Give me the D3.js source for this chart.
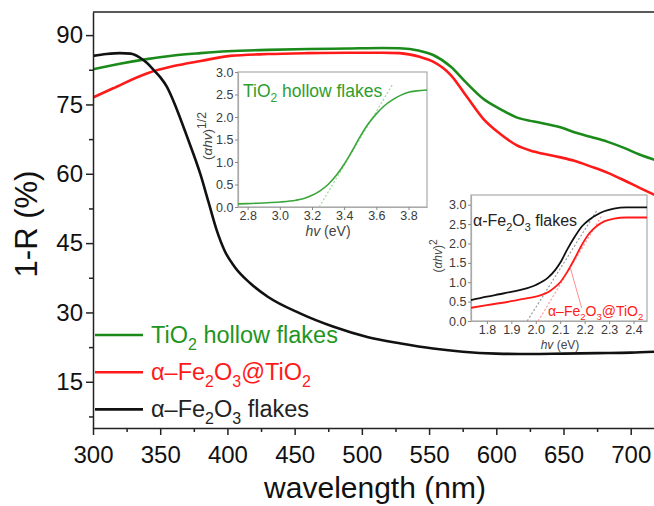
<!DOCTYPE html>
<html>
<head>
<meta charset="utf-8">
<script src="https://cdn.jsdelivr.net/npm/d3@7"></script>
<style>
  body { margin: 0; background: #fff; }
  svg { display: block; font-family: "Liberation Sans", Arial, sans-serif; }
</style>
</head>
<body>
<div id="chart"></div>
<script>
// main spectra, wavelength (nm) -> 1-R (%)
const tioWl = [300, 320, 340, 360, 380, 400, 430, 460, 490, 515, 528, 543, 553, 566, 578, 590, 603, 615, 628, 647, 658, 670, 683, 695, 707, 718]
const tioR  = [82.6, 83.8, 84.8, 85.6, 86.1, 86.5, 86.8, 87.0, 87.1, 87.2, 87.15, 86.6, 85.7, 83.2, 79.6, 76.3, 74.0, 72.2, 71.3, 70.1, 69.0, 68.0, 66.9, 65.6, 64.1, 63.0]

const coreWl = [300, 315, 340, 360, 380, 402, 430, 460, 490, 515, 528, 543, 553, 566, 578, 590, 603, 615, 628, 647, 658, 670, 683, 695, 707, 718]
const coreR  = [76.5, 78.5, 81.7, 83.3, 84.4, 85.5, 85.9, 86.1, 86.2, 86.2, 86.1, 85.3, 84.25, 81.4, 76.7, 72.0, 68.6, 66.2, 64.8, 63.6, 62.8, 61.6, 60.2, 58.6, 56.9, 55.4]

const feWl = [300, 310, 320, 328, 335, 340, 345, 350, 355, 362, 370, 380, 386, 392, 398, 405, 417, 430, 454, 479, 504, 529, 553, 575, 600, 625, 650, 675, 700, 718]
const feR  = [85.5, 85.9, 86.1, 86.0, 85.1, 84.0, 82.5, 80.9, 78.8, 74.2, 68.0, 59.8, 53.8, 47.8, 43.3, 40.0, 36.3, 33.4, 29.8, 26.9, 24.7, 23.3, 22.2, 21.5, 21.1, 21.0, 21.1, 21.2, 21.3, 21.5]

const xTicks = [300, 350, 400, 450, 500, 550, 600, 650, 700]
const xMinor = [325, 375, 425, 475, 525, 575, 625, 675]
const yTicks = [15, 30, 45, 60, 75, 90]
const yMinor = [7.5, 22.5, 37.5, 52.5, 67.5, 82.5]

// inset 1: Tauc plot of TiO2, hv (eV) -> (ahv)^1/2
const tioEv  = [2.74, 2.8, 2.9, 3.0, 3.1, 3.15, 3.2, 3.25, 3.3, 3.35, 3.4, 3.45, 3.5, 3.55, 3.6, 3.65, 3.7, 3.75, 3.8, 3.85, 3.915]
const tioTauc = [0.07, 0.075, 0.09, 0.11, 0.15, 0.19, 0.26, 0.36, 0.5, 0.7, 0.95, 1.25, 1.57, 1.85, 2.07, 2.25, 2.38, 2.48, 2.55, 2.58, 2.6]
const tioFit = [[3.245, 0], [3.70, 2.72]]
const in1xTicks = [2.8, 3.0, 3.2, 3.4, 3.6, 3.8]
const in1yTicks = [0, 0.5, 1.0, 1.5, 2.0, 2.5, 3.0]

// inset 2: Tauc plots of Fe2O3, hv (eV) -> (ahv)^2
const feEv   = [1.735, 1.8, 1.85, 1.9, 1.95, 2.0, 2.05, 2.08, 2.1, 2.13, 2.16, 2.19, 2.22, 2.25, 2.28, 2.32, 2.37, 2.455]
const feTauc = [0.54, 0.63, 0.69, 0.75, 0.82, 0.93, 1.12, 1.32, 1.5, 1.86, 2.18, 2.45, 2.62, 2.74, 2.83, 2.9, 2.93, 2.93]
const coreEv   = [1.735, 1.8, 1.9, 1.95, 2.0, 2.05, 2.08, 2.1, 2.13, 2.16, 2.19, 2.22, 2.25, 2.28, 2.32, 2.37, 2.455]
const coreTauc = [0.34, 0.41, 0.51, 0.57, 0.63, 0.74, 0.88, 1.0, 1.28, 1.62, 1.98, 2.27, 2.45, 2.57, 2.64, 2.67, 2.67]
const feFit   = [[1.965, 0], [2.25, 2.85]]
const coreFit = [[2.01, 0], [2.27, 2.72]]
const corePointer = [[2.14, 1.40], [2.188, 0.33]]
const in2xTicks = [1.8, 1.9, 2.0, 2.1, 2.2, 2.3, 2.4]
const in2yTicks = [0, 0.5, 1.0, 1.5, 2.0, 2.5, 3.0]

const green = '#1b8a1b', red = '#ff1a1a', black = '#111'

const svg = d3.select('#chart').append('svg').attr('width', 654).attr('height', 506)

// writes text made of parts: plain, sub, sup, italic
function rich(sel, parts, fs, supScale) {
    let shift = 0
    parts.forEach(p => {
        const t = sel.append('tspan').text(p[0])
        let want = 0
        if (p[1] == 'sub') { t.attr('font-size', fs * 0.68); want = fs * 0.32 }
        if (p[1] == 'sup') { t.attr('font-size', fs * (supScale || 0.68)); want = -fs * 0.45 }
        if (p[1] == 'it') t.attr('font-style', 'italic')
        if (want != shift) { t.attr('dy', want - shift); shift = want }
    })
}

// ---------- main plot ----------
const x = d3.scaleLinear().domain([300, 720]).range([93, 93 + 420 * 1.3443])
const y = d3.scaleLinear().domain([5, 95]).range([428, 12])

svg.append('clipPath').attr('id', 'clipMain')
    .append('rect').attr('x', 93).attr('y', 12).attr('width', 570).attr('height', 416)

const line = d3.line().x(d => x(d[0])).y(d => y(d[1])).curve(d3.curveMonotoneX)

const series = [
    { wl: tioWl, r: tioR, color: green },
    { wl: coreWl, r: coreR, color: red },
    { wl: feWl, r: feR, color: black }
]
const gCurves = svg.append('g').attr('clip-path', 'url(#clipMain)')
series.forEach(s => {
    gCurves.append('path')
        .datum(s.wl.map((w, i) => [w, s.r[i]]))
        .attr('d', line)
        .attr('fill', 'none')
        .attr('stroke', s.color)
        .attr('stroke-width', 2.6)
})

// axes
function styleAxis(g, fs) {
    g.selectAll('path, line').attr('stroke', '#222').attr('stroke-width', 1.5)
    g.selectAll('text').attr('font-size', fs).attr('fill', '#111').attr('font-family', 'Liberation Sans, Arial, sans-serif')
}
const gx = svg.append('g').attr('transform', 'translate(0,428)')
    .call(d3.axisBottom(x).tickValues(xTicks).tickSize(7).tickSizeOuter(0).tickPadding(11))
styleAxis(gx, 24)
const gxm = svg.append('g').attr('transform', 'translate(0,428)')
    .call(d3.axisBottom(x).tickValues(xMinor).tickSize(4).tickFormat(''))
gxm.select('.domain').remove()
styleAxis(gxm, 24)

const gy = svg.append('g').attr('transform', 'translate(93,0)')
    .call(d3.axisLeft(y).tickValues(yTicks).tickSize(7).tickSizeOuter(0).tickPadding(3))
styleAxis(gy, 24)
const gym = svg.append('g').attr('transform', 'translate(93,0)')
    .call(d3.axisLeft(y).tickValues(yMinor).tickSize(4).tickFormat(''))
gym.select('.domain').remove()
styleAxis(gym, 24)

svg.append('line').attr('x1', 93).attr('x2', 654).attr('y1', 12).attr('y2', 12)
    .attr('stroke', '#222').attr('stroke-width', 1.5)

svg.append('text').text('wavelength (nm)')
    .attr('x', 375).attr('y', 498)
    .attr('text-anchor', 'middle').attr('font-size', 30).attr('fill', '#111')

svg.append('text').text('1-R (%)')
    .attr('transform', 'translate(37,224) rotate(-90)')
    .attr('text-anchor', 'middle').attr('font-size', 31).attr('fill', '#111')

// legend
const legend = [
    { parts: [['TiO'], ['2', 'sub'], [' hollow flakes']], color: green, text: '#1f951f' },
    { parts: [['α–Fe'], ['2', 'sub'], ['O'], ['3', 'sub'], ['@TiO'], ['2', 'sub']], color: red, text: red },
    { parts: [['α–Fe'], ['2', 'sub'], ['O'], ['3', 'sub'], [' flakes']], color: black, text: '#222' }
]
legend.forEach((l, i) => {
    const ly = 335 + i * 37.2
    svg.append('line').attr('x1', 95).attr('x2', 143).attr('y1', ly).attr('y2', ly)
        .attr('stroke', l.color).attr('stroke-width', 2.6)
    const t = svg.append('text').attr('x', 151).attr('y', ly + 7.5)
        .attr('font-size', 23.5).attr('fill', l.text)
    rich(t, l.parts, 23.5)
})

// ---------- insets ----------
function inset(box, xd, yd, xt, yt, fs) {
    const sx = d3.scaleLinear().domain(xd).range([box.x0, box.x1])
    const sy = d3.scaleLinear().domain(yd).range([box.y1, box.y0])
    const g = svg.append('g')
    g.append('rect').attr('x', box.x0).attr('y', box.y0)
        .attr('width', box.x1 - box.x0).attr('height', box.y1 - box.y0)
        .attr('fill', '#fff').attr('stroke', '#aaa').attr('stroke-width', 1.2)
    const ax = g.append('g').attr('transform', `translate(0,${box.y1})`)
        .call(d3.axisBottom(sx).tickValues(xt).tickFormat(d3.format('.1f')).tickSize(3).tickSizeOuter(0).tickPadding(1.5))
    const ay = g.append('g').attr('transform', `translate(${box.x0},0)`)
        .call(d3.axisLeft(sy).tickValues(yt).tickFormat(d3.format('.1f')).tickSize(3).tickSizeOuter(0).tickPadding(1.5))
    ;[ax, ay].forEach(a => {
        a.select('.domain').attr('stroke', '#aaa').attr('stroke-width', 1.2)
        a.selectAll('line').attr('stroke', '#888')
        a.selectAll('text').attr('font-size', fs).attr('fill', '#3a3a3a')
            .attr('font-family', 'Liberation Sans, Arial, sans-serif')
    })
    const ln = d3.line().x(d => sx(d[0])).y(d => sy(d[1])).curve(d3.curveMonotoneX)
    return { g, sx, sy, ln }
}

// inset 1
const in1 = inset({ x0: 238, x1: 427, y0: 72, y1: 207 }, [2.74, 3.915], [0, 3], in1xTicks, in1yTicks, 12.5)
in1.g.append('path').datum(tioFit).attr('d', in1.ln)
    .attr('fill', 'none').attr('stroke', '#9fd89f').attr('stroke-width', 1.2).attr('stroke-dasharray', '2,2')
in1.g.append('path').datum(tioEv.map((e, i) => [e, tioTauc[i]])).attr('d', in1.ln)
    .attr('fill', 'none').attr('stroke', '#3aa63a').attr('stroke-width', 1.6)
rich(in1.g.append('text').attr('x', 243).attr('y', 96.5).attr('font-size', 17.5).attr('fill', '#2e9e2e'),
    [['TiO'], ['2', 'sub'], [' hollow flakes']], 17.5)
rich(in1.g.append('text').attr('x', 328).attr('y', 235.5).attr('text-anchor', 'middle')
    .attr('font-size', 14).attr('fill', '#444'), [['hv', 'it'], [' (eV)']], 14)
rich(in1.g.append('text').attr('transform', 'translate(212,136) rotate(-90)').attr('text-anchor', 'middle')
    .attr('font-size', 13.5).attr('fill', '#444'), [['('], ['αhv', 'it'], [')'], ['1/2', 'sup']], 13.5, 0.9)

// inset 2
const in2 = inset({ x0: 471, x1: 647, y0: 195, y1: 321 }, [1.735, 2.455], [0, 3.25], in2xTicks, in2yTicks, 12.5)
in2.g.append('path').datum(feFit).attr('d', in2.ln)
    .attr('fill', 'none').attr('stroke', '#999').attr('stroke-width', 1.2).attr('stroke-dasharray', '2,2')
in2.g.append('path').datum(coreFit).attr('d', in2.ln)
    .attr('fill', 'none').attr('stroke', '#ff9a9a').attr('stroke-width', 1.2).attr('stroke-dasharray', '2,2')
in2.g.append('path').datum(feEv.map((e, i) => [e, feTauc[i]])).attr('d', in2.ln)
    .attr('fill', 'none').attr('stroke', black).attr('stroke-width', 1.8)
in2.g.append('path').datum(coreEv.map((e, i) => [e, coreTauc[i]])).attr('d', in2.ln)
    .attr('fill', 'none').attr('stroke', red).attr('stroke-width', 1.8)
in2.g.append('path').datum(corePointer).attr('d', d3.line().x(d => in2.sx(d[0])).y(d => in2.sy(d[1])))
    .attr('fill', 'none').attr('stroke', '#ff7070').attr('stroke-width', 0.8)
rich(in2.g.append('text').attr('x', 473).attr('y', 226).attr('font-size', 16).attr('fill', '#222'),
    [['α-Fe'], ['2', 'sub'], ['O'], ['3', 'sub'], [' flakes']], 16)
rich(in2.g.append('text').attr('x', 548).attr('y', 315.5).attr('font-size', 14).attr('fill', red),
    [['α–Fe'], ['2', 'sub'], ['O'], ['3', 'sub'], ['@TiO'], ['2', 'sub']], 14)
rich(in2.g.append('text').attr('x', 560).attr('y', 349).attr('text-anchor', 'middle')
    .attr('font-size', 12).attr('fill', '#444'), [['hv', 'it'], [' (eV)']], 12)
rich(in2.g.append('text').attr('transform', 'translate(442,256) rotate(-90)').attr('text-anchor', 'middle')
    .attr('font-size', 12).attr('fill', '#444'), [['('], ['αhv', 'it'], [')'], ['2', 'sup']], 12, 0.85)
</script>
</body>
</html>
